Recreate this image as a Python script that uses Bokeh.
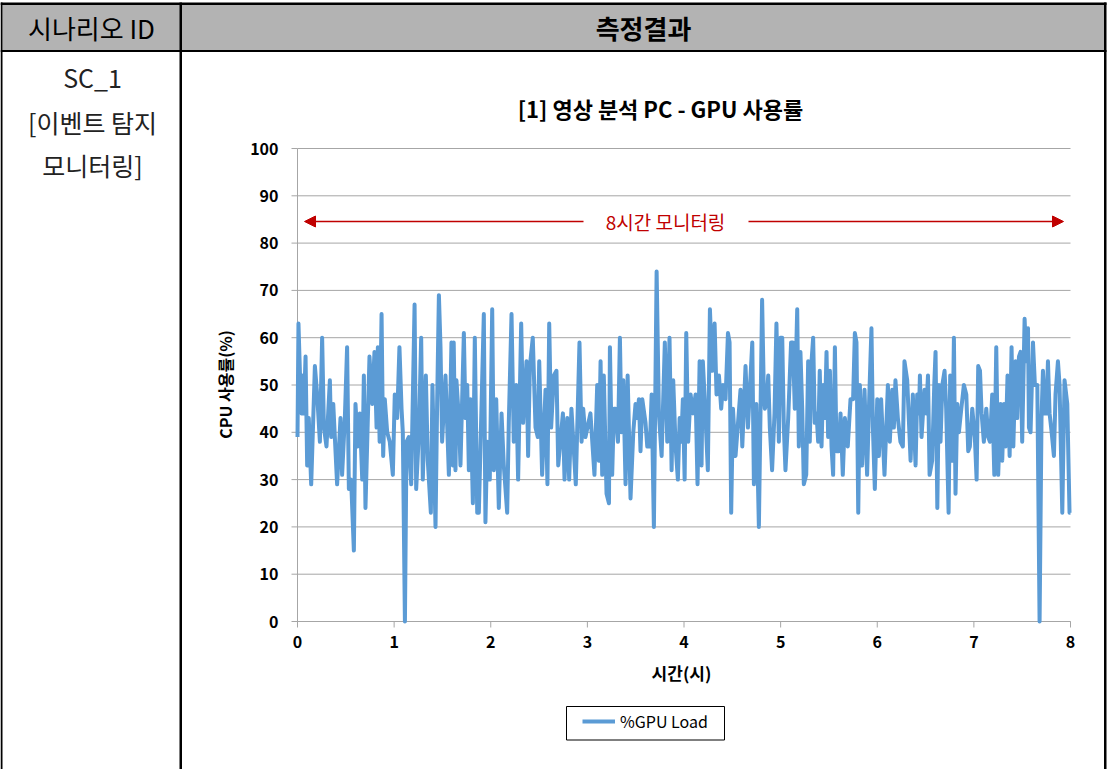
import math
from bokeh.plotting import figure
from bokeh.models import (Range1d, Label, Arrow, NormalHead, Legend, LegendItem)
from bokeh.core.properties import value
from bokeh.embed import file_html
from bokeh.resources import INLINE

# ---------------- data ----------------
minutes = [
    0.0, 0.6, 1.9, 2.5, 3.3, 3.9, 5.0, 6.0, 7.0, 8.5, 10.8, 12.2, 13.9, 15.3, 16.4, 18.0, 20.1, 20.9, 22.2, 24.6,
    26.7, 27.7, 29.4, 30.8, 31.9, 33.3, 35.0, 36.0, 37.5, 38.7, 40.2, 41.2, 42.2, 44.7, 46.4, 47.8, 49.1, 49.9, 51.0, 52.2,
    53.2, 54.2, 55.7, 57.3, 59.2, 60.4, 61.9, 63.3, 64.6, 65.4, 66.7, 67.7, 69.1, 70.6, 72.7, 73.7, 75.4, 76.8, 77.8, 79.7,
    80.9, 82.8, 83.8, 85.7, 86.7, 87.8, 88.8, 89.8, 91.9, 94.0, 95.6,
    96.5, 97.0, 98.1, 98.7, 100.2, 101.2, 103.3, 104.3, 105.4, 106.4, 107.4, 108.9, 110.1, 111.6, 112.6, 114.3, 115.7, 116.7,
    117.8, 119.4, 120.9, 121.9, 123.4, 125.0, 126.7, 128.1, 130.2, 131.2, 132.9, 134.3, 135.8, 137.0, 138.9, 140.1, 142.2,
    143.2, 144.3, 146.1, 147.8, 149.2, 150.1, 151.9, 154.0, 155.2, 156.3, 157.5, 159.2, 160.8, 161.9, 164.8, 165.8, 167.5,
    168.7, 170.1, 172.8, 175.1, 176.4, 177.4, 178.8, 181.9, 184.4, 186.1, 187.1, 188.2, 189.2, 190.2, 191.9,
    193.4, 194.0, 195.4, 196.5, 197.5, 199.0, 200.2, 201.2, 202.3, 203.7, 205.0, 206.8, 208.5, 209.9, 211.0, 212.0, 213.0,
    214.1, 216.1, 217.2, 218.8, 219.9, 221.3, 223.0, 224.4, 226.1, 228.1, 229.6, 231.0, 232.3, 233.3, 234.8, 236.2, 237.3,
    238.3, 239.3, 240.4, 241.4, 242.6, 244.1, 245.5, 247.2, 248.4, 249.7, 250.9, 251.7, 253.0, 254.8, 256.1, 257.5, 259.0,
    260.2, 261.7, 263.1, 264.2, 265.8, 267.3, 268.3, 269.3, 270.4, 272.0, 275.1, 276.2, 278.2, 279.7, 282.4, 283.4, 284.9,
    286.5,
    288.5, 289.6, 290.2, 291.2, 292.3, 293.3, 294.7, 296.2, 297.4, 298.9, 299.9, 301.0, 302.0, 303.0, 304.7, 306.5, 307.6,
    308.8, 310.3, 311.3, 312.3, 313.4, 314.4, 315.9, 317.1, 318.1, 319.2, 320.2, 321.2, 322.3, 323.3, 324.3, 325.4, 326.4,
    327.5, 328.5, 329.5, 330.6, 331.6, 332.6, 333.7, 334.7, 336.1, 337.2, 338.6, 339.9, 341.7, 343.4, 345.0, 346.1, 347.1,
    348.2, 349.2, 350.6, 352.1, 353.7, 355.0, 356.4, 357.3, 358.5, 360.0, 361.0, 362.4, 364.5, 366.6, 367.8, 369.3, 370.3,
    371.3, 372.8, 374.4, 375.9, 376.9, 378.6, 380.7, 382.1, 383.8,
    384.8, 385.9, 386.5, 387.5, 388.4, 389.4, 390.4, 391.5, 392.5, 394.1, 395.4, 396.2, 397.3, 398.3, 399.3, 400.4, 401.8,
    402.8, 404.3, 405.3, 406.6, 407.6, 408.6, 409.7, 410.7, 412.2, 413.8, 415.3, 416.5, 417.5, 419.0, 420.6, 421.7, 422.7,
    423.8, 424.8, 426.2, 427.7, 428.9, 430.0, 431.4, 432.7, 433.9, 435.1, 436.6, 437.6, 438.7, 439.7, 440.9, 442.2, 443.4,
    444.5, 445.9, 446.9, 448.0, 449.0, 450.0, 451.5, 452.5, 453.6, 454.2, 455.2, 456.7, 457.9, 459.4, 460.8, 462.0, 462.9,
    464.1, 465.0, 466.0, 467.0, 468.3, 469.7, 470.7, 472.2, 473.2, 474.9, 476.3, 478.0, 479.4, 480.0,
]
gpu_load = [
    39, 63, 48, 44, 52, 44, 56, 33, 43, 29, 54, 48, 38, 60, 41, 37, 51, 39, 46, 29,
    43, 31, 43, 58, 28, 30, 15, 46, 37, 44, 30, 52, 24, 56, 46, 57, 41, 58, 38, 65,
    35, 47, 40, 38, 31, 48, 43, 58, 45, 40, 0, 38, 39, 29, 67, 28, 40, 60, 30, 52,
    34, 23, 50, 20, 46, 69, 58, 38, 52, 31, 59,
    33, 59, 32, 51, 43, 33, 61, 43, 50, 32, 47, 25, 60, 23, 23, 46, 65, 21,
    38, 30, 66, 32, 47, 24, 44, 33, 23, 42, 65, 38, 50, 30, 63, 42, 55,
    35, 54, 60, 41, 39, 55, 31, 49, 29, 63, 41, 52, 53, 33, 44, 30, 43,
    30, 45, 29, 59, 38, 45, 39, 44, 31, 50, 34, 55, 31, 52, 27,
    25, 58, 31, 45, 45, 38, 60, 40, 51, 29, 52, 26, 40, 46, 43, 47, 36,
    47, 42, 37, 37, 48, 20, 74, 44, 35, 59, 38, 60, 32, 51, 37, 30, 43,
    38, 47, 30, 61, 38, 48, 44, 48, 29, 55, 33, 55, 46, 32, 66, 53, 63,
    48, 52, 45, 50, 47, 61, 59, 23, 45, 35, 49, 37, 54, 41, 59, 29, 46,
    20,
    68, 48, 45, 46, 52, 41, 32, 44, 63, 38, 60, 60, 41, 32, 43, 59, 59,
    45, 66, 37, 57, 45, 29, 31, 55, 38, 55, 60, 42, 44, 38, 53, 37, 50,
    43, 57, 39, 53, 37, 31, 58, 36, 36, 44, 31, 43, 37, 47, 47, 61, 59,
    23, 50, 33, 49, 31, 47, 62, 41, 28, 47, 35, 47, 31, 50, 38, 49, 41,
    51, 43, 38, 37, 55, 51, 34, 48, 33,
    48, 44, 52, 39, 44, 49, 44, 52, 31, 34, 50, 57, 24, 50, 38, 50, 53,
    45, 23, 52, 34, 60, 27, 46, 40, 45, 50, 48, 36, 37, 45, 39, 30, 54,
    53, 44, 38, 45, 39, 38, 48, 31, 58, 31, 46, 34, 46, 37, 52, 35, 58,
    37, 55, 43, 56, 57, 38, 64, 55, 62, 41, 40, 59, 50, 50, 0, 43, 53,
    44, 44, 55, 44, 40, 35, 48, 55, 50, 23, 51, 46, 23, 23,
]
x_ticks = [0, 1, 2, 3, 4, 5, 6, 7, 8]
y_ticks = [0, 10, 20, 30, 40, 50, 60, 70, 80, 90, 100]
x_tick_labels = [str(t) for t in x_ticks]
y_tick_labels = [str(t) for t in y_ticks]
hours = [m / 60.0 for m in minutes]

header_left = "시나리오 ID"
header_right = "측정결과"
scenario_lines = ["SC_1", "[이벤트 탐지", "모니터링]"]
chart_title = "[1] 영상 분석 PC - GPU 사용률"
span_text = "8시간 모니터링"
y_title = "CPU 사용률(%)"
x_title = "시간(시)"
series_name = "%GPU Load"

# ---------------- layout (pixels of the page) ----------------
W, H = 1107, 769
FL, FR, FT, FB = 297, 1070, 148, 621          # chart plot area
XMAX, YMAX = x_ticks[-1], y_ticks[-1]
PXH = (FR - FL) / XMAX
PXV = (FB - FT) / YMAX
FONT = "Noto Sans CJK KR"
BLUE = "#5B9BD5"
RED = "#C00000"
GRID = "#a6a6a6"

p = figure(width=W, height=H, output_backend="svg", toolbar_location=None,
           title=None, x_range=Range1d(0, W), y_range=Range1d(H, 0),
           x_axis_type=None, y_axis_type=None, min_border=0,
           outline_line_color=None, background_fill_color="white",
           border_fill_color="white")
# chart scales: hours / percent mapped onto the plot area
p.extra_x_ranges = {"h": Range1d(-FL / PXH, (W - FL) / PXH)}
p.extra_y_ranges = {"v": Range1d((FB - H) / PXV, FB / PXV)}
CH = dict(x_range_name="h", y_range_name="v")


def txt(X, Y, s, size, bold=False, color="#000000", align="center", angle=0.0):
    lab = Label(x=X, y=Y, text=s, text_font=FONT, text_font_size=f"{size}px",
                text_font_style="bold" if bold else "normal",
                text_color=color, text_align=align, text_baseline="middle",
                angle=angle)
    p.add_layout(lab)
    return lab


# ---------------- table ----------------
p.quad(left=[2], right=[1104], top=[4], bottom=[50], fill_color="#b3b3b3", line_color=None)
# borders: top, header bottom, left, divider, right
p.quad(left=[0, 0, 0, 179, 1103.5], right=[1106, 1106, 2, 181.5, 1106],
       top=[2, 49.5, 2, 2, 2], bottom=[4.5, 51.5, 769, 769, 769],
       fill_color="#000000", line_color=None)

txt(91, 27, header_left, 26)
txt(643, 27, header_right, 26, bold=True)
for line_text, yy in zip(scenario_lines, [76, 121, 164]):
    txt(92, yy, line_text, 25, color="#222222")

# ---------------- chart ----------------
n_y = len(y_ticks)
n_x = len(x_ticks)
# horizontal grid
p.segment(x0=[x_ticks[0]] * n_y, x1=[x_ticks[-1]] * n_y, y0=y_ticks, y1=y_ticks,
          line_color=GRID, line_width=1, **CH)
# axis lines
p.segment(x0=[0, 0], x1=[0, XMAX], y0=[0, 0], y1=[YMAX, 0], line_color=GRID, line_width=1, **CH)
# tick marks (outside)
p.ray(x=[0] * n_y, y=y_ticks, length=6, length_units="screen", angle=math.pi,
      line_color=GRID, line_width=1, **CH)
p.ray(x=x_ticks, y=[0] * n_x, length=6, length_units="screen", angle=-math.pi / 2,
      line_color=GRID, line_width=1, **CH)
# tick labels
p.text(x=[0] * n_y, y=y_ticks, text=y_tick_labels, x_offset=-19,
       text_align="right", text_baseline="middle", text_font=value(FONT),
       text_font_style="bold", text_font_size="16px", text_color="#000000", **CH)
p.text(x=x_ticks, y=[0] * n_x, text=x_tick_labels, y_offset=20,
       text_align="center", text_baseline="middle", text_font=value(FONT),
       text_font_style="bold", text_font_size="16px", text_color="#000000", **CH)

r = p.line(hours, gpu_load, line_color=BLUE, line_width=4, line_join="round", **CH)

txt(660, 107, chart_title, 22, bold=True)
txt(224, 384, y_title, 16, bold=True, angle=math.pi / 2)
txt(681, 672, x_title, 17, bold=True)

# red double arrow with text
for xs, xe in [(583, 304), (748, 1063)]:
    p.add_layout(Arrow(x_start=xs, y_start=221, x_end=xe, y_end=221,
                       line_color=RED, line_width=1.5,
                       end=NormalHead(size=11, fill_color=RED, line_color=RED)))
txt(665, 221, span_text, 19, color=RED)

# legend
p.quad(left=[566], right=[724], top=[706], bottom=[739.5], fill_color=None,
       line_color="#000000", line_width=1)
legend = Legend(items=[LegendItem(label=series_name, renderers=[r])],
                location=(582, H - 733), padding=0, margin=0,
                border_line_color=None, background_fill_alpha=0,
                glyph_width=33, glyph_height=20, label_height=20,
                label_standoff=5, label_text_font=FONT,
                label_text_font_size="16px", label_text_color="#000000")
p.add_layout(legend)

open("out.html", "w").write(file_html(p, INLINE))
